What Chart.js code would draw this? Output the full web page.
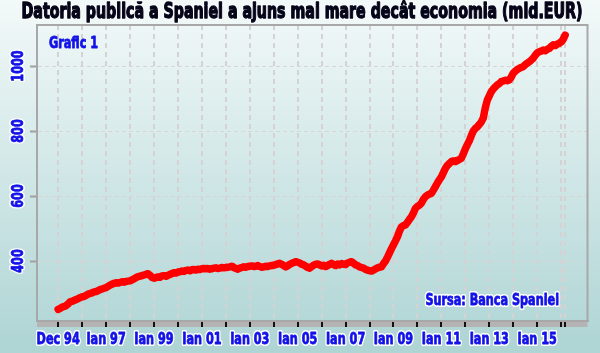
<!DOCTYPE html>
<html>
<head>
<meta charset="utf-8">
<script src="https://cdn.jsdelivr.net/npm/chart.js@4.4.1/dist/chart.umd.min.js"></script>
<style>
    html, body { margin: 0; padding: 0; background: #fff; }
</style>
</head>
<body>
<canvas id="chart1" width="600" height="353"></canvas>
<script>
// datoria publica, mld. EUR, lunar: Dec 94 ... Feb 16
var datorie = [
    251,
    254, 258, 260, 263, 268, 275, 276, 279, 281, 284, 287, 290,          // 1995
    291, 294, 298, 300, 302, 305, 306, 309, 312, 314, 316, 318,          // 1996
    322, 326, 329, 331, 333, 332, 334, 336, 335, 337, 338, 339,          // 1997
    342, 345, 349, 352, 353, 355, 357, 359, 361, 356, 350, 347,          // 1998
    349, 351, 350, 354, 355, 353, 356, 359, 361, 364, 363, 366,          // 1999
    367, 369, 368, 371, 372, 370, 373, 374, 372, 375, 374, 376,          // 2000
    377, 376, 377, 375, 376, 378, 379, 377, 378, 380, 379, 380,          // 2001
    381, 382, 384, 380, 377, 375, 378, 380, 382, 381, 383, 384,          // 2002
    385, 383, 384, 386, 383, 381, 382, 384, 383, 385, 386, 387,          // 2003
    389, 391, 393, 390, 386, 382, 385, 390, 393, 395, 398, 396,          // 2004
    394, 390, 388, 384, 380, 378, 383, 387, 390, 391, 388, 385,          // 2005
    387, 383, 386, 390, 393, 389, 386, 391, 388, 392, 390, 389,          // 2006
    394, 396, 398, 393, 388, 386, 382, 380, 378, 374, 372, 370,          // 2007
    369, 372, 376, 379, 381, 382, 392, 400, 412, 425, 438, 450,          // 2008
    462, 475, 492, 505, 509, 511, 519, 528, 536, 548, 562, 568,          // 2009
    572, 578, 590, 598, 603, 606, 608, 618, 629, 640, 650, 659,          // 2010
    672, 685, 694, 700, 706, 708, 706, 709, 713, 716, 730, 745,          // 2011
    758, 770, 786, 800, 808, 813, 820, 828, 840, 872, 895, 908,          // 2012
    921, 929, 936, 942, 946, 952, 954, 956, 955, 957, 966, 978,          // 2013
    984, 989, 993, 996, 998, 1004, 1009, 1013, 1018, 1024, 1033, 1040,   // 2014
    1044, 1046, 1049, 1047, 1051, 1054, 1060, 1065, 1063, 1067, 1070, 1074, // 2015
    1082, 1095                                                           // 2016
];

// pozitiile liniutelor pe axa X (luni de la Dec 94)
var pozitiiTick = [0, 12, 24, 36, 48, 60, 72, 84, 96, 108, 120, 132, 144, 156, 168, 180, 192, 204, 216, 228, 240, 252, 254];
var eticheteX = ['Dec 94', '', 'Ian 97', '', 'Ian 99', '', 'Ian 01', '', 'Ian 03', '', 'Ian 05', '', 'Ian 07', '',
    'Ian 09', '', 'Ian 11', '', 'Ian 13', '', 'Ian 15', '', ''];
var valoriY = [400, 600, 800, 1000];

var titlu = 'Datoria publică a Spaniei a ajuns mai mare decât economia (mld.EUR)';
var nota = 'Grafic 1';
var sursa = 'Sursa: Banca Spaniei';

var FONT = "'Liberation Sans Narrow', 'DejaVu Sans Condensed', 'Arial Narrow', sans-serif";
var ALBASTRU = '#1212e8';
var INGUST = 0.78; // ingustare orizontala a textului

// text albastru ingustat; x,y = punct de ancorare, rot in radiani
function scrieText(ctx, text, x, y, align, baseline, contur, rot) {
    ctx.save();
    ctx.translate(x, y);
    if (rot) ctx.rotate(rot);
    ctx.scale(INGUST, 1);
    ctx.font = 'bold 16px ' + FONT;
    ctx.textAlign = align;
    ctx.textBaseline = baseline;
    ctx.lineJoin = 'round';
    if (contur) {
        ctx.lineWidth = 4;
        ctx.strokeStyle = '#ffffff';
        ctx.strokeText(text, 0, 0);
    }
    ctx.fillStyle = ALBASTRU;
    ctx.fillText(text, 0, 0);
    ctx.lineWidth = 0.8;
    ctx.strokeStyle = ALBASTRU;
    ctx.strokeText(text, 0, 0);
    ctx.restore();
}

var decor = {
    id: 'decor',
    beforeDraw: function (chart) {
        var ctx = chart.ctx;
        var a = chart.chartArea;
        ctx.save();
        var g = ctx.createLinearGradient(0, 0, 0, chart.height);
        g.addColorStop(0, '#f3f9f9');
        g.addColorStop(1, '#aed4d4');
        ctx.fillStyle = g;
        ctx.fillRect(0, 0, chart.width, chart.height);
        // banda gri sub axa X
        ctx.fillStyle = '#b4b4b4';
        ctx.fillRect(a.left, a.bottom, a.right - a.left, 6);
        ctx.restore();
    },
    beforeDatasetsDraw: function (chart) {
        var ctx = chart.ctx;
        var a = chart.chartArea;
        ctx.save();
        ctx.strokeStyle = '#a8a8a8';
        ctx.lineWidth = 2;
        ctx.beginPath();
        ctx.moveTo(a.left, a.top);
        ctx.lineTo(a.right, a.top);
        ctx.lineTo(a.right, a.bottom);
        ctx.stroke();
        ctx.restore();
    },
    afterDraw: function (chart) {
        var ctx = chart.ctx;
        var sx = chart.scales.x;
        var sy = chart.scales.y;

        // titlu, ingustat ca sa ocupe latimea
        ctx.save();
        ctx.font = 'bold 21px ' + FONT;
        var w = ctx.measureText(titlu).width;
        ctx.translate(302, 18);
        ctx.scale(561 / w, 1);
        ctx.textAlign = 'center';
        ctx.lineJoin = 'round';
        ctx.lineWidth = 3.5;
        ctx.strokeStyle = 'rgba(255,255,255,0.8)';
        ctx.strokeText(titlu, 0, 0);
        ctx.lineWidth = 1.3;
        ctx.strokeStyle = '#05051a';
        ctx.strokeText(titlu, 0, 0);
        ctx.fillStyle = '#05051a';
        ctx.fillText(titlu, 0, 0);
        ctx.restore();

        // etichete axa X
        sx.ticks.forEach(function (t, i) {
            if (eticheteX[i]) {
                scrieText(ctx, eticheteX[i], sx.getPixelForValue(t.value), 344, 'center', 'alphabetic', true, 0);
            }
        });
        // etichete axa Y, verticale
        sy.ticks.forEach(function (t) {
            scrieText(ctx, String(t.value), 19, sy.getPixelForValue(t.value), 'center', 'middle', true, -Math.PI / 2);
        });

        scrieText(ctx, nota, 49, 48, 'left', 'alphabetic', false, 0);
        scrieText(ctx, sursa, 559, 305, 'right', 'alphabetic', true, 0);
    }
};

var ctx1 = document.getElementById('chart1').getContext('2d');
var chart1 = new Chart(ctx1, {
    type: 'line',
    data: {
        datasets: [{
            label: 'Datoria publica',
            data: datorie.map(function (v, i) { return { x: i, y: v }; }),
            borderColor: '#ff0000',
            borderWidth: 7.5,
            borderJoinStyle: 'round',
            borderCapStyle: 'round',
            pointRadius: 0,
            tension: 0,
            fill: false
        }]
    },
    options: {
        responsive: false,
        animation: false,
        layout: { padding: { top: 25, right: 12.5, left: 0, bottom: 0 } },
        plugins: {
            legend: { display: false },
            tooltip: { enabled: false },
            title: { display: false }
        },
        scales: {
            x: {
                type: 'linear',
                min: -10.6,
                max: 265.2,
                afterBuildTicks: function (scale) {
                    scale.ticks = pozitiiTick.map(function (v) { return { value: v }; });
                },
                afterFit: function (scale) { scale.height = 32; },
                ticks: { display: false },
                grid: {
                    color: '#d4d2d2',
                    lineWidth: 2,
                    tickLength: 6,
                    tickColor: '#111111',
                    tickWidth: 2
                },
                border: { color: '#a8a8a8', width: 2, dash: [5, 4] }
            },
            y: {
                min: 215.4,
                max: 1126.2,
                afterBuildTicks: function (scale) {
                    scale.ticks = valoriY.map(function (v) { return { value: v }; });
                },
                afterFit: function (scale) { scale.width = 37; },
                ticks: { display: false },
                grid: {
                    color: '#d6d6d6',
                    lineWidth: 1,
                    tickLength: 7,
                    tickColor: '#a0a0a0',
                    tickWidth: 2
                },
                border: { color: '#a8a8a8', width: 2, dash: [4, 3] }
            }
        }
    },
    plugins: [decor]
});
</script>
</body>
</html>
